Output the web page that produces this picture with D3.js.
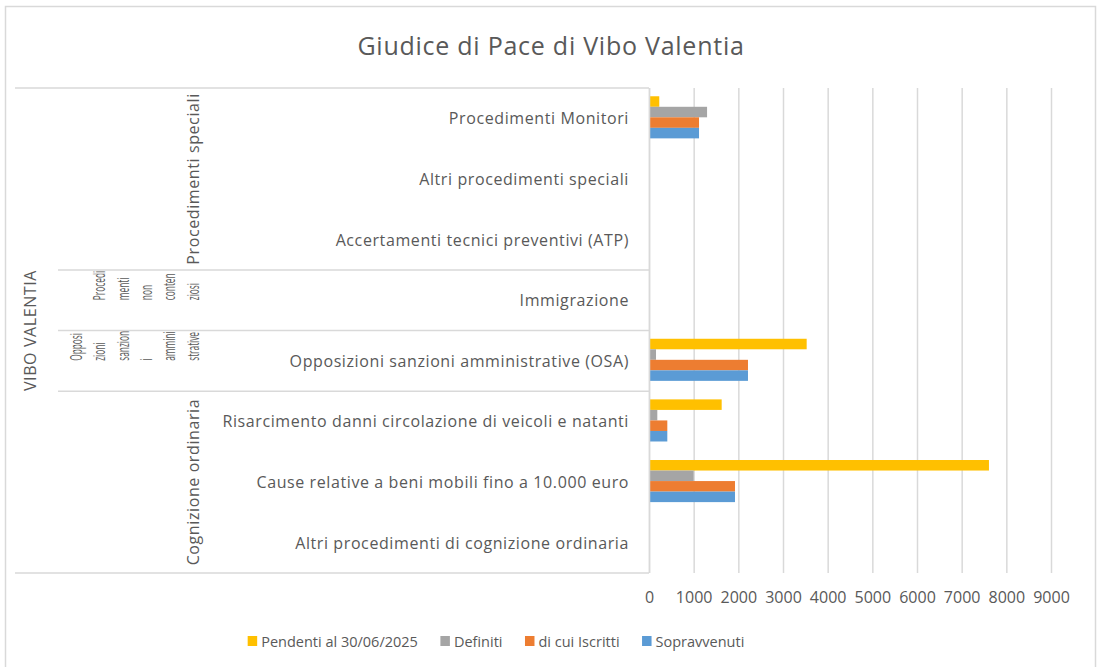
<!DOCTYPE html>
<html>
<head>
<meta charset="utf-8">
<script src="https://cdn.jsdelivr.net/npm/d3@7/dist/d3.min.js"></script>
<style>
  html, body { margin: 0; padding: 0; background: #fff; }
  svg text { font-family: "Open Sans", "Lato", sans-serif; fill: #595959; }
  .lbl { font-size: 16px; letter-spacing: 0.6px; }
  .wrap { font-size: 16px; }
</style>
</head>
<body>
<svg id="chart" width="1105" height="667"></svg>
<script>
// Categories, top to bottom
const categories = [
  "Procedimenti Monitori",
  "Altri procedimenti speciali",
  "Accertamenti tecnici preventivi (ATP)",
  "Immigrazione",
  "Opposizioni sanzioni amministrative (OSA)",
  "Risarcimento danni circolazione di veicoli e natanti",
  "Cause relative a beni mobili fino a 10.000 euro",
  "Altri procedimenti di cognizione ordinaria"
];

// Category groups (label lines as wrapped in the axis table) and how many categories each spans
const groupLines = [
  ["Procedimenti speciali"],
  ["Procedi", "menti", "non", "conten", "ziosi"],
  ["Opposi", "zioni", "sanzion", "i", "ammini", "strative"],
  ["Cognizione ordinaria"]
];
const groupSizes = [3, 1, 1, 3];
const outerLabel = "VIBO VALENTIA";

// Series
const seriesNames = ["Pendenti al 30/06/2025", "Definiti", "di cui Iscritti", "Sopravvenuti"];
const seriesColors = ["#FFC000", "#A5A5A5", "#ED7D31", "#5B9BD5"];
const pendenti     = [230, 8, 6, 0, 3530, 1627, 7611, 4];
const definiti     = [1300, 3, 2, 0, 157, 186, 1000, 2];
const iscritti     = [1120, 8, 6, 0, 2216, 410, 1925, 4];
const sopravvenuti = [1120, 8, 6, 0, 2216, 410, 1925, 4];
const seriesValues = [pendenti, definiti, iscritti, sopravvenuti];

const xTicks = [0, 1000, 2000, 3000, 4000, 5000, 6000, 7000, 8000, 9000];

const svg = d3.select("#chart");

// Chart area border
svg.append("rect")
  .attr("x", 5.5).attr("y", 6.5).attr("width", 1090).attr("height", 670)
  .attr("fill", "none").attr("stroke", "#d9d9d9").attr("stroke-width", 1.5);

// Title
svg.append("text")
  .attr("x", 551).attr("y", 45)
  .attr("text-anchor", "middle").attr("dominant-baseline", "central")
  .style("font-size", "25px").style("letter-spacing", "0.75px")
  .text("Giudice di Pace di Vibo Valentia");

const plotTop = 88, plotBottom = 573;
const x = d3.scaleLinear().domain([0, 9000]).range([649, 1051]);
const y0 = d3.scaleBand().domain(categories).range([plotTop, plotBottom]).padding(0);
const y1 = d3.scaleBand().domain(seriesNames).range([-1, y0.bandwidth() - 1])
  .paddingInner(0).paddingOuter(0.88);

// Vertical gridlines
svg.append("g").selectAll("line").data(xTicks).join("line")
  .attr("x1", d => x(d) + 0.5).attr("x2", d => x(d) + 0.5)
  .attr("y1", plotTop).attr("y2", plotBottom)
  .attr("stroke", "#d9d9d9").attr("stroke-width", 1.5);

// Bars
const catG = svg.append("g").selectAll("g").data(categories).join("g")
  .attr("transform", d => `translate(0,${y0(d)})`);
catG.selectAll("rect")
  .data((c, i) => seriesNames.map((s, k) => ({ s, v: seriesValues[k][i], color: seriesColors[k] })))
  .join("rect")
  .attr("x", x(0))
  .attr("y", d => y1(d.s))
  .attr("width", d => x(d.v) - x(0))
  .attr("height", y1.bandwidth())
  .attr("fill", d => d.color);

// X axis tick labels
const xAxis = d3.axisBottom(x).tickValues(xTicks).tickSize(0).tickPadding(0).tickFormat(d3.format("d"));
const xg = svg.append("g").attr("transform", `translate(0,${plotBottom + 19})`).call(xAxis);
xg.select(".domain").remove();
xg.selectAll("text").style("font-size", "16px").style("font-family", "'Open Sans', sans-serif").attr("fill", "#595959");

// Category axis line
svg.append("line")
  .attr("x1", x(0) + 0.5).attr("x2", x(0) + 0.5)
  .attr("y1", plotTop).attr("y2", plotBottom)
  .attr("stroke", "#d9d9d9").attr("stroke-width", 1.5);

// Axis table: top and bottom rules span the full label area
const tableLeft = 15, groupLeft = 58;
svg.append("line").attr("x1", tableLeft).attr("x2", x(0)).attr("y1", plotTop).attr("y2", plotTop)
  .attr("stroke", "#d9d9d9").attr("stroke-width", 1.5);
svg.append("line").attr("x1", tableLeft).attr("x2", x(0)).attr("y1", plotBottom).attr("y2", plotBottom)
  .attr("stroke", "#d9d9d9").attr("stroke-width", 1.5);

// Group boundaries and labels; wrapped labels in the narrow cells are squeezed along their run
let idx = 0;
groupSizes.forEach((n, g) => {
  const top = y0(categories[idx]);
  const bottom = y0(categories[idx + n - 1]) + y0.bandwidth();
  idx += n;
  if (g > 0) {
    svg.append("line").attr("x1", groupLeft).attr("x2", x(0)).attr("y1", top).attr("y2", top)
      .attr("stroke", "#d9d9d9").attr("stroke-width", 1.5);
  }
  const lines = groupLines[g];
  const cy = (top + bottom) / 2;
  const lastX = 192.5, lineGap = 23.4;
  const single = lines.length === 1;
  lines.forEach((t, j) => {
    const lx = lastX - (lines.length - 1 - j) * lineGap;
    svg.append("text")
      .attr("class", single ? "lbl" : "wrap")
      .attr("transform", single
        ? `translate(${lx},${cy}) rotate(-90)`
        : `translate(${lx},${cy}) rotate(-90) scale(0.52,1)`)
      .attr("text-anchor", single ? "middle" : "start")
      .attr("dominant-baseline", "central")
      .text(t);
  });
});

// Outer label
svg.append("text")
  .attr("class", "lbl")
  .attr("transform", `translate(30,${(plotTop + plotBottom) / 2}) rotate(-90)`)
  .attr("text-anchor", "middle").attr("dominant-baseline", "central")
  .text(outerLabel);

// Category labels
svg.append("g").selectAll("text").data(categories).join("text")
  .attr("class", "lbl")
  .attr("x", 629)
  .attr("y", d => y0(d) + y0.bandwidth() / 2)
  .attr("text-anchor", "end").attr("dominant-baseline", "central")
  .text(d => d);

// Legend
const legend = svg.append("g");
let lx = 0;
const items = [];
seriesNames.forEach((name, k) => {
  const it = legend.append("g");
  it.append("rect").attr("x", 0).attr("y", -5).attr("width", 9.5).attr("height", 10).attr("fill", seriesColors[k]);
  const t = it.append("text").attr("x", 13.5).attr("y", 0).attr("dominant-baseline", "central")
    .style("font-size", "14.5px").text(name);
  const w = 13.5 + t.node().getComputedTextLength();
  items.push({ it, w });
});
const gap = 22.5;
const totalW = d3.sum(items, d => d.w) + gap * (items.length - 1);
lx = 496 - totalW / 2;
items.forEach(d => {
  d.it.attr("transform", `translate(${lx},641)`);
  lx += d.w + gap;
});
</script>
</body>
</html>
